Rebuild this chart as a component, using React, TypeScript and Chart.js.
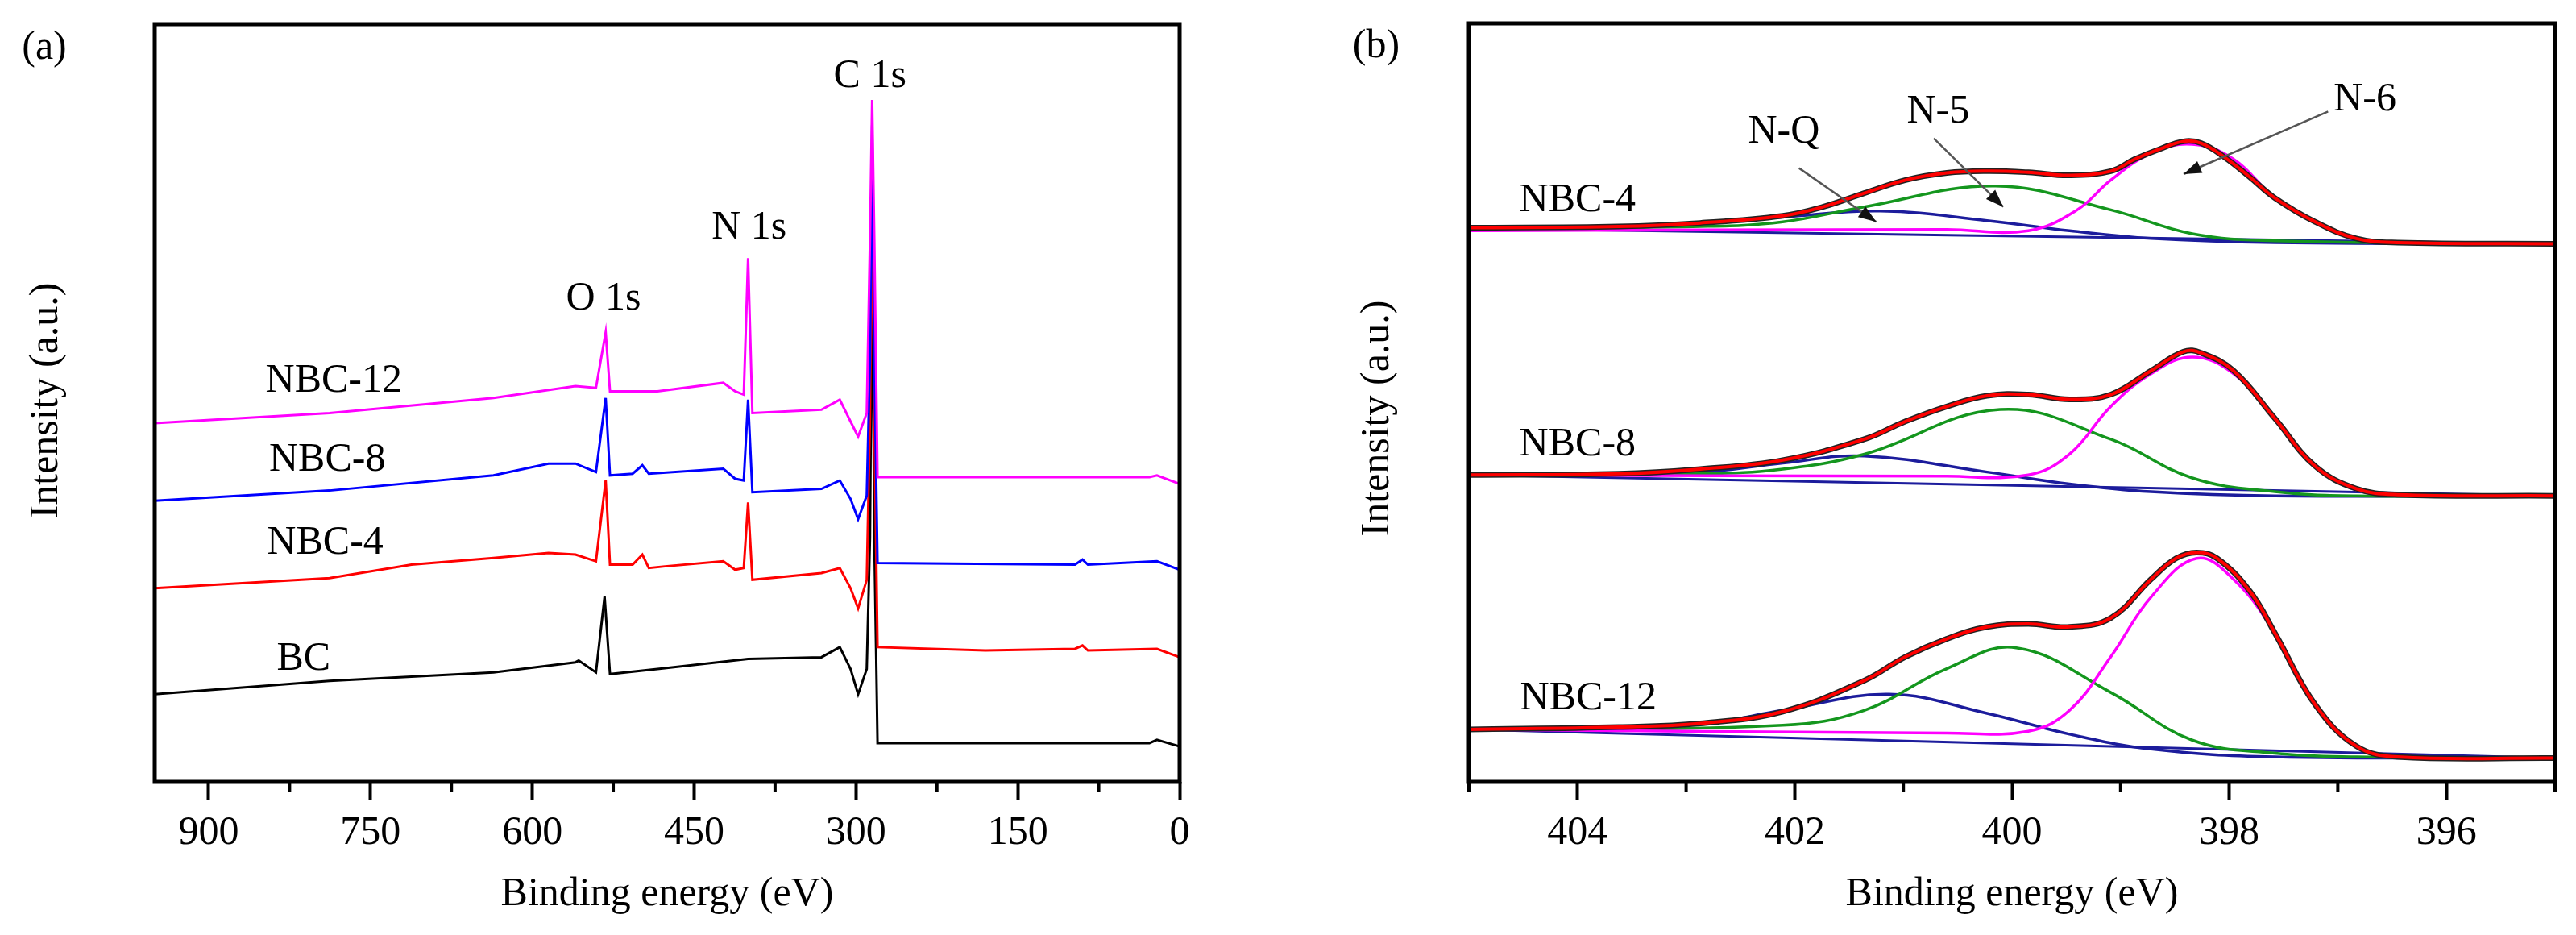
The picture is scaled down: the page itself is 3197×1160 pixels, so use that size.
import React, { useEffect, useRef } from "react";
import { Chart, registerables } from "chart.js";
Chart.register(...registerables);

// ---------- Panel (a): survey spectra ----------
const A_EV_BC = [950, 788, 636, 560, 557, 541, 533, 528, 484, 400, 332, 315, 305, 298, 290, 287, 285, 283, 280, 180, 28, 21, 0];
const A_BC = [52, 60, 65, 71, 72, 65, 110, 64, 67, 73, 74, 80, 67, 52, 67, 145, 320, 145, 23, 23, 23, 25, 21];

const A_EV_N4 = [950, 788, 712, 636, 585, 560, 541, 532, 528, 507, 498, 492, 477, 423, 412, 404, 400, 396, 332, 315, 305, 298, 290, 287, 285, 283, 280, 180, 97, 90, 85, 21, 0];
const A_N4 = [115, 121, 129, 133, 136, 135, 131, 179, 129, 129, 135, 127, 128, 131, 126, 127, 166, 120, 124, 127, 115, 103, 120, 216, 360, 216, 80, 78, 79, 81, 78, 79, 74];

const A_EV_N8 = [950, 788, 636, 585, 560, 541, 532, 528, 507, 498, 492, 423, 412, 404, 400, 396, 332, 315, 305, 298, 290, 287, 285, 283, 280, 97, 90, 85, 21, 0];
const A_N8 = [167, 173, 182, 189, 189, 184, 228, 182, 183, 188, 183, 186, 180, 179, 227, 172, 174, 179, 168, 156, 170, 251, 390, 251, 130, 129, 132, 129, 131, 126];

const A_EV_N12 = [950, 788, 636, 560, 541, 532, 528, 484, 423, 412, 404, 400, 396, 332, 315, 305, 298, 290, 287, 285, 283, 280, 28, 21, 0];
const A_N12 = [213, 219, 228, 235, 234, 267, 232, 232, 237, 232, 230, 311, 219, 221, 227, 214, 205, 219, 322, 405, 322, 181, 181, 182, 177];

// ---------- Panel (b): N 1s high resolution ----------
const B_EV_ENV = [405, 403.62, 402.87, 402.11, 401.74, 401.36, 400.98, 400.6, 400.23, 399.85, 399.47, 399.09, 398.87, 398.64, 398.42, 398.26, 398.04, 397.81, 397.58, 397.21, 396.83, 396.45, 395];
const B_ENV4 = [930, 932, 938, 950, 965, 988, 1010, 1022, 1025, 1023, 1018, 1025, 1045, 1062, 1075, 1072, 1048, 1015, 980, 940, 912, 905, 903];
const B_EV_N6_4 = [405, 400.6, 399.85, 399.4, 399.09, 398.72, 398.34, 397.96, 397.58, 397.21, 396.83, 396.53, 395];
const B_N6_4 = [925, 927, 925, 960, 1010, 1055, 1070, 1045, 980, 940, 912, 905, 903];
const B_EV_N5_4 = [405, 402.87, 402.11, 401.36, 400.15, 399.09, 398.34, 397.58, 395];
const B_N5_4 = [928, 932, 940, 965, 1000, 960, 920, 908, 903];
const B_EV_NQ_4 = [405, 403.62, 402.87, 402.11, 401.21, 400.23, 399.47, 398.72, 397.58, 395];
const B_NQ_4 = [930, 932, 938, 948, 958, 942, 925, 912, 905, 903];

const B_EV_ENV8 = [405, 403.62, 402.87, 402.11, 401.36, 400.98, 400.6, 400.23, 399.85, 399.47, 399.09, 398.72, 398.42, 398.26, 397.96, 397.58, 397.21, 396.83, 396.45, 395];
const B_ENV8 = [515, 517, 525, 540, 575, 605, 630, 648, 650, 642, 650, 690, 722, 720, 690, 610, 530, 492, 482, 480];
const B_EV_N6_8 = [405, 400.6, 399.85, 399.47, 399.09, 398.72, 398.34, 397.96, 397.58, 397.21, 396.83, 396.45, 395];
const B_N6_8 = [515, 513, 515, 550, 630, 685, 713, 685, 610, 530, 490, 482, 480];
const B_EV_N5_8 = [405, 402.87, 402.11, 401.36, 400.11, 399.09, 398.34, 397.58, 396.83, 395];
const B_N5_8 = [515, 517, 525, 550, 625, 575, 510, 487, 480, 480];
const B_EV_NQ_8 = [405, 402.87, 402.11, 401.36, 400.23, 399.47, 398.72, 397.58, 395];
const B_NQ_8 = [515, 520, 535, 547, 520, 500, 487, 480, 480];

const B_EV_ENV12 = [405, 403.62, 402.87, 402.11, 401.36, 400.98, 400.6, 400.23, 399.85, 399.47, 399.09, 398.72, 398.49, 398.3, 398.11, 397.81, 397.58, 397.21, 396.83, 396.45, 395];
const B_ENV12 = [88, 92, 98, 118, 170, 210, 240, 260, 265, 260, 275, 340, 375, 385, 375, 320, 250, 130, 60, 42, 40];
const B_EV_N6_12 = [405, 400.6, 399.85, 399.47, 399.09, 398.72, 398.3, 397.96, 397.58, 397.21, 396.83, 396.45, 395];
const B_N6_12 = [88, 82, 85, 120, 210, 310, 375, 340, 250, 130, 60, 42, 40];
const B_EV_N5_12 = [405, 402.11, 401.36, 400.6, 399.96, 399.09, 398.34, 397.58, 396.83, 395];
const B_N5_12 = [88, 95, 120, 190, 225, 150, 70, 48, 42, 40];
const B_EV_NQ_12 = [405, 402.87, 402.11, 401.13, 400.23, 399.47, 398.72, 397.58, 395];
const B_NQ_12 = [88, 98, 120, 147, 115, 80, 55, 42, 40];

const B_EV_BASE = [405, 395];
const B_BASE4 = [929, 903];
const B_BASE8 = [515, 480];
const B_BASE12 = [88, 40];

const FONT = '"Times New Roman", "Liberation Serif", Tinos, serif';

const pts = (xs: number[], ys: number[]) => xs.map((x, i) => ({ x, y: ys[i] }));

type Txt = { t: string; x: number; y: number };
type Arrow = { x1: number; y1: number; x2: number; y2: number };
type Deco = {
  letter: string; letterPos: [number, number];
  yTitlePos: [number, number];
  xTitleY: number;
  dataTexts: Txt[];
  arrows: Arrow[];
  minorEvery: (v: number) => boolean;
};

function decoPlugin(d: Deco) {
  return {
    id: "deco",
    afterDraw(chart: any) {
      const { ctx, chartArea: a, scales } = chart;
      const xs = scales.x, ys = scales.y;
      ctx.save();
      ctx.strokeStyle = "#000";
      ctx.lineWidth = 5;
      ctx.strokeRect(a.left, a.top, a.right - a.left, a.bottom - a.top);
      ctx.lineWidth = 4;
      xs.ticks.forEach((tk: any) => {
        if (d.minorEvery(tk.value)) {
          const px = xs.getPixelForValue(tk.value);
          ctx.beginPath();
          ctx.moveTo(px, a.bottom);
          ctx.lineTo(px, a.bottom + 13);
          ctx.stroke();
        }
      });
      ctx.fillStyle = "#000";
      ctx.font = `50px ${FONT}`;
      ctx.textAlign = "center";
      ctx.textBaseline = "middle";
      ctx.fillText(d.letter, d.letterPos[0], d.letterPos[1]);
      ctx.fillText("Binding energy (eV)", (a.left + a.right) / 2, d.xTitleY);
      ctx.save();
      ctx.translate(d.yTitlePos[0], d.yTitlePos[1]);
      ctx.rotate(-Math.PI / 2);
      ctx.fillText("Intensity (a.u.)", 0, 0);
      ctx.restore();
      d.dataTexts.forEach((t) => {
        ctx.fillText(t.t, xs.getPixelForValue(t.x), ys.getPixelForValue(t.y));
      });
      d.arrows.forEach((ar) => {
        const x1 = xs.getPixelForValue(ar.x1), y1 = ys.getPixelForValue(ar.y1);
        const x2 = xs.getPixelForValue(ar.x2), y2 = ys.getPixelForValue(ar.y2);
        ctx.strokeStyle = "#555";
        ctx.lineWidth = 2.5;
        ctx.beginPath();
        ctx.moveTo(x1, y1);
        ctx.lineTo(x2, y2);
        ctx.stroke();
        const ang = Math.atan2(y2 - y1, x2 - x1);
        const L = 22, W = 8;
        ctx.fillStyle = "#111";
        ctx.beginPath();
        ctx.moveTo(x2, y2);
        ctx.lineTo(x2 - L * Math.cos(ang) + W * Math.sin(ang), y2 - L * Math.sin(ang) - W * Math.cos(ang));
        ctx.lineTo(x2 - L * Math.cos(ang) - W * Math.sin(ang), y2 - L * Math.sin(ang) + W * Math.cos(ang));
        ctx.closePath();
        ctx.fill();
        ctx.fillStyle = "#000";
      });
      ctx.restore();
    },
  };
}

function line(data: any[], color: string, width: number, tension = 0) {
  return { data, borderColor: color, borderWidth: width, pointRadius: 0, showLine: true, tension, fill: false };
}

function makeOptions(min: number, max: number, step: number, yMax: number, pad: any, labelFn: (v: number) => string) {
  return {
    animation: false,
    responsive: false,
    devicePixelRatio: 1,
    layout: { padding: pad },
    plugins: { legend: { display: false }, tooltip: { enabled: false } },
    scales: {
      x: {
        type: "linear",
        min, max, reverse: true,
        afterFit: (s: any) => { s.height = 190; },
        border: { display: false },
        grid: {
          drawOnChartArea: false, drawTicks: true, tickLength: 22,
          tickWidth: 4,
          tickColor: (c: any) => (labelFn(c.tick.value) === "" ? "rgba(0,0,0,0)" : "#000"),
        },
        ticks: {
          stepSize: step, includeBounds: false, autoSkip: false, maxRotation: 0,
          padding: 12, color: "#000",
          font: { family: FONT, size: 50 },
          callback: (v: any) => labelFn(Number(v)),
        },
      },
      y: { display: false, min: 0, max: yMax },
    },
  };
}

// Note: Chart.js paints the first dataset last (on top), so top-most lines are listed first.
function PanelA() {
  const ref = useRef<HTMLCanvasElement>(null);
  useEffect(() => {
    const label = (v: number) => (Math.round(v) % 150 === 0 ? String(Math.round(v)) : "");
    const chart = new Chart(ref.current!, {
      type: "scatter",
      data: {
        datasets: [
          line(pts(A_EV_N12, A_N12), "#ff00ff", 3),
          line(pts(A_EV_N8, A_N8), "#0000ff", 3),
          line(pts(A_EV_N4, A_N4), "#ff0000", 3),
          line(pts(A_EV_BC, A_BC), "#000000", 3),
        ],
      } as any,
      options: makeOptions(0, 950, 75, 450, { left: 192, right: 136, top: 30, bottom: 0 }, label) as any,
      plugins: [decoPlugin({
        letter: "(a)", letterPos: [55, 60], yTitlePos: [58, 497], xTitleY: 1110,
        dataTexts: [
          { t: "NBC-12", x: 784, y: 238 }, { t: "NBC-8", x: 790, y: 191 },
          { t: "NBC-4", x: 792, y: 142 }, { t: "BC", x: 812, y: 73 },
          { t: "O 1s", x: 534, y: 287 }, { t: "N 1s", x: 399, y: 329 }, { t: "C 1s", x: 287, y: 419 },
        ],
        arrows: [],
        minorEvery: (v) => Math.round(v) % 150 !== 0,
      })],
    });
    return () => chart.destroy();
  }, []);
  return <canvas ref={ref} width={1600} height={1160} style={{ position: "absolute", left: 0, top: 0 }} />;
}

function PanelB() {
  const ref = useRef<HTMLCanvasElement>(null);
  useEffect(() => {
    const label = (v: number) => (Math.round(v) % 2 === 0 ? String(Math.round(v)) : "");
    const navy = "#1c1c9c", green = "#14961e", mag = "#ff00ff";
    const group = (env: any[], nq: any[], n5: any[], n6: any[], base: any[]) => [
      line(env, "#ff0000", 4, 0.4),
      line(env, "#222222", 7, 0.4),
      line(n6, mag, 3.5, 0.4),
      line(n5, green, 3.5, 0.4),
      line(nq, navy, 3.5, 0.4),
      line(base, navy, 3),
    ];
    const chart = new Chart(ref.current!, {
      type: "scatter",
      data: {
        datasets: [
          ...group(pts(B_EV_ENV, B_ENV4), pts(B_EV_NQ_4, B_NQ_4), pts(B_EV_N5_4, B_N5_4), pts(B_EV_N6_4, B_N6_4), pts(B_EV_BASE, B_BASE4)),
          ...group(pts(B_EV_ENV8, B_ENV8), pts(B_EV_NQ_8, B_NQ_8), pts(B_EV_N5_8, B_N5_8), pts(B_EV_N6_8, B_N6_8), pts(B_EV_BASE, B_BASE8)),
          ...group(pts(B_EV_ENV12, B_ENV12), pts(B_EV_NQ_12, B_NQ_12), pts(B_EV_N5_12, B_N5_12), pts(B_EV_N6_12, B_N6_12), pts(B_EV_BASE, B_BASE12)),
        ],
      } as any,
      options: makeOptions(395, 405, 1, 1273, { left: 223, right: 26, top: 29, bottom: 0 }, label) as any,
      plugins: [decoPlugin({
        letter: "(b)", letterPos: [108, 58], yTitlePos: [110, 519], xTitleY: 1110,
        dataTexts: [
          { t: "NBC-4", x: 404.0, y: 975 }, { t: "NBC-8", x: 404.0, y: 565 }, { t: "NBC-12", x: 403.9, y: 140 },
          { t: "N-Q", x: 402.1, y: 1090 }, { t: "N-5", x: 400.68, y: 1125 }, { t: "N-6", x: 396.75, y: 1145 },
        ],
        arrows: [
          { x1: 401.96, y1: 1030, x2: 401.25, y2: 940 },
          { x1: 400.72, y1: 1080, x2: 400.08, y2: 965 },
          { x1: 397.09, y1: 1125, x2: 398.42, y2: 1020 },
        ],
        minorEvery: (v) => Math.round(v) % 2 !== 0,
      })],
    });
    return () => chart.destroy();
  }, []);
  return <canvas ref={ref} width={1597} height={1160} style={{ position: "absolute", left: 1600, top: 0 }} />;
}

export default function App() {
  return (
    <div style={{ position: "absolute", left: 0, top: 0, width: 3197, height: 1160, background: "#fff" }}>
      <PanelA />
      <PanelB />
    </div>
  );
}
